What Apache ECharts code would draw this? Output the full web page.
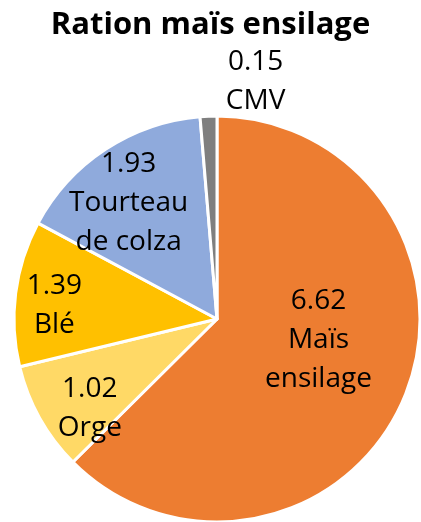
<!DOCTYPE html>
<html>
<head>
<meta charset="utf-8">
<script src="https://cdn.jsdelivr.net/npm/echarts@6/dist/echarts.min.js"></script>
<style>
html, body { margin: 0; padding: 0; background: #fff; }
#chart { width: 421px; height: 522px; }
</style>
</head>
<body>
<div id="chart"></div>
<script>
var names = ['Maïs\nensilage', 'Orge', 'Blé', 'Tourteau\nde colza', 'CMV'];
// printed value of each slice
var valueLabels = ['6.62', '1.02', '1.39', '1.93', '0.15'];
// size of each slice as measured on the picture, in degrees
var sliceDegrees = [225.2, 31.2, 41.8, 57.0, 4.8];
var colors = ['#ED7D31', '#FFD966', '#FFC000', '#8FAADC', '#7F7F7F'];
// shift of each label away from the default inside spot
var labelShift = [[5, -19], [-36, 39], [-59, 0], [-31, -29], [43, -133]];

var data = [];
for (var i = 0; i < sliceDegrees.length; i++) {
    data.push({ name: names[i], value: sliceDegrees[i], itemStyle: { color: colors[i] } });
}

var myChart = echarts.init(document.getElementById('chart'));
var option = {
    animation: false,
    title: {
        text: 'Ration maïs ensilage',
        left: 'center',
        top: 5,
        textStyle: { fontFamily: 'Open Sans', fontWeight: 'bold', fontSize: 31, color: '#000' }
    },
    series: [
        {
            type: 'pie',
            center: [217, 319],
            radius: 203,
            startAngle: 90,
            clockwise: true,
            data: data,
            itemStyle: { borderColor: '#fff', borderWidth: 3 },
            label: {
                position: 'inside',
                formatter: function (p) {
                    return valueLabels[p.dataIndex] + '\n' + p.name;
                },
                fontFamily: 'Open Sans',
                fontSize: 28,
                lineHeight: 39,
                color: '#000'
            },
            labelLine: { show: false },
            labelLayout: function (params) {
                var s = labelShift[params.dataIndex];
                return { dx: s[0], dy: s[1] };
            }
        }
    ]
};
myChart.setOption(option);
</script>
</body>
</html>
